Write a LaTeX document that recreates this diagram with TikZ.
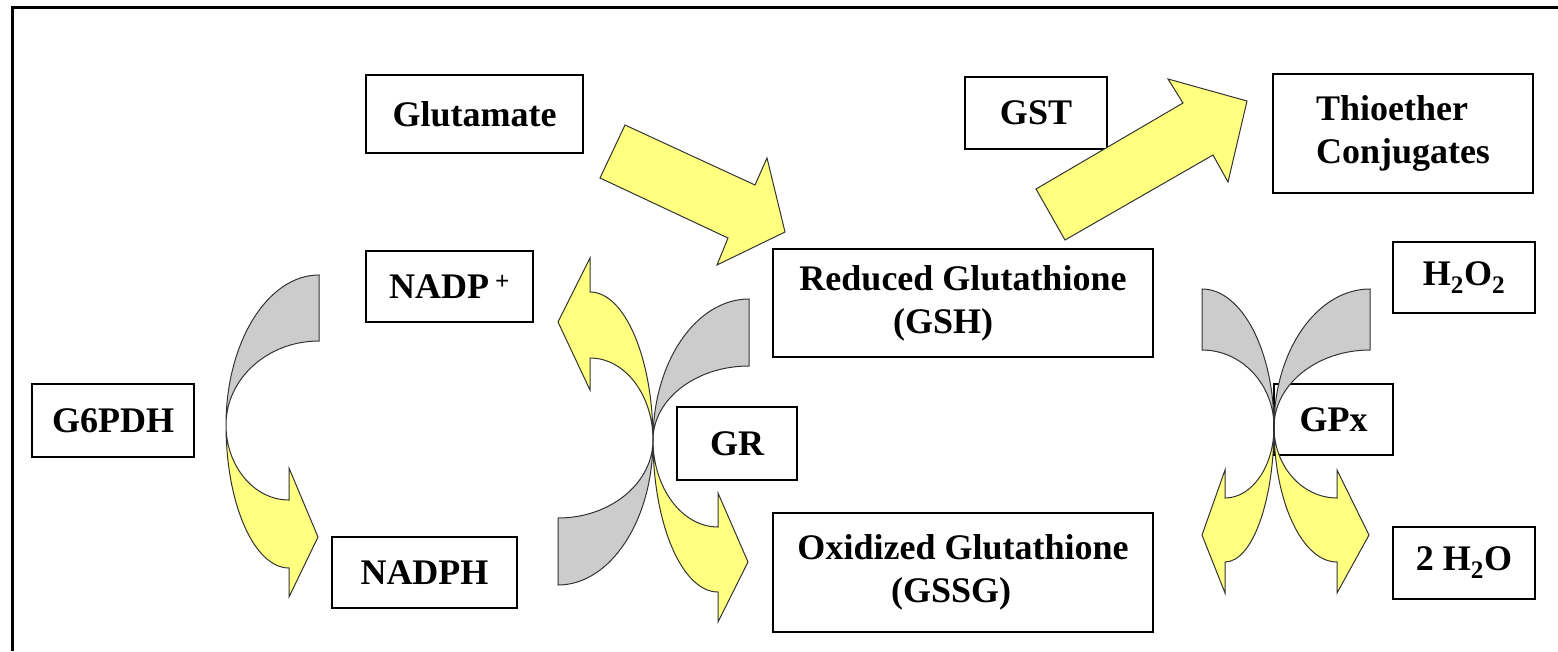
\documentclass[tikz,border=0pt]{standalone}
\usepackage{fontspec}
\setmainfont{Liberation Serif}
\definecolor{arrowyellow}{HTML}{FFFF80}
\definecolor{arrowgray}{HTML}{CCCCCC}

\begin{document}
\begin{tikzpicture}[x=1pt,y=-1pt,
  every node/.style={font=\fontsize{36}{43}\selectfont\bfseries},
  box/.style={draw,line width=1.8pt,inner sep=0pt},
  yel/.style={fill=arrowyellow,draw=black!80,line width=1pt},
  gry/.style={fill=arrowgray,draw=black!80,line width=1pt}]
  \useasboundingbox (0,0) rectangle (1558,651);
  \draw[line width=3pt] (12,651) -- (12,7) -- (1558,7);

  % boxes
  \node[box,minimum width=217pt,minimum height=78pt] (glu) at (474.5,114) {Glutamate};
  \node[box,minimum width=167pt,minimum height=71pt] (nadp) at (449.5,286.5) {NADP\,\textsuperscript{+}};
  \node[box,minimum width=162pt,minimum height=73pt] (g6pdh) at (113,420.5) {G6PDH};
  \node[box,minimum width=185pt,minimum height=71pt] (nadph) at (424.5,572.5) {NADPH};
  \node[box,minimum width=120pt,minimum height=73pt] (gr) at (737,443.5) {GR};
  \node[box,minimum width=380pt,minimum height=108pt,align=left] (gsh) at (963,303) {Reduced Glutathione\\\hspace*{2.6em}(GSH)};
  \node[box,minimum width=380pt,minimum height=119pt,align=left] (gssg) at (963,572.5) {Oxidized Glutathione\\\hspace*{2.6em}(GSSG)};
  \node[box,minimum width=142pt,minimum height=72pt] (gst) at (1036,113) {GST};
  \node[box,minimum width=260pt,minimum height=119pt,align=left] (thio) at (1403,133.5) {Thioether\\Conjugates};
  \node[box,minimum width=142pt,minimum height=71pt] (h2o2) at (1464,277.5) {H\textsubscript{2}O\textsubscript{2}};
  \node[box,minimum width=142pt,minimum height=72pt] (water) at (1464,563) {2 H\textsubscript{2}O};
  \node[box,minimum width=119pt,minimum height=71pt] (gpx) at (1333.5,419.5) {GPx};

  % straight arrows
  \draw[yel] (625,125) -- (755,185) -- (767,158) -- (785,232) -- (717,265) -- (728,238) -- (600,178) -- cycle;
  \draw[yel] (1036,189) -- (1183,103) -- (1168,79) -- (1247,101) -- (1228,182) -- (1213,155) -- (1065,240) -- cycle;

  % G6PDH cycle
  \draw[gry] (319,275) arc[start angle=-90,end angle=-180,x radius=93,y radius=150]
    arc[start angle=180,end angle=270,x radius=93,y radius=84] -- cycle;
  \draw[yel] (226,425) arc[start angle=180,end angle=90,x radius=63,y radius=143]
    -- (289,597) -- (318,537) -- (289,468) -- (289,500)
    arc[start angle=90,end angle=180,x radius=63,y radius=75] -- cycle;

  % GR cycle
  \draw[gry] (749,299) arc[start angle=-90,end angle=-180,x radius=96,y radius=141]
    arc[start angle=180,end angle=270,x radius=96,y radius=74] -- cycle;
  \draw[gry] (558,585) arc[start angle=90,end angle=0,x radius=95,y radius=145]
    arc[start angle=0,end angle=90,x radius=95,y radius=78] -- cycle;
  \draw[yel] (653,440) arc[start angle=0,end angle=-90,x radius=63,y radius=148]
    -- (590,258) -- (558,322) -- (590,390) -- (590,358)
    arc[start angle=-90,end angle=0,x radius=63,y radius=82] -- cycle;
  \draw[yel] (653,440) arc[start angle=180,end angle=90,x radius=65,y radius=152]
    -- (718,622) -- (748,562) -- (718,493) -- (718,527)
    arc[start angle=90,end angle=180,x radius=65,y radius=87] -- cycle;

  % GPx cycle
  \draw[gry] (1202,289) arc[start angle=-90,end angle=0,x radius=72,y radius=138]
    arc[start angle=0,end angle=-90,x radius=72,y radius=77] -- cycle;
  \draw[gry] (1370,289) arc[start angle=-90,end angle=-180,x radius=96,y radius=138]
    arc[start angle=180,end angle=270,x radius=96,y radius=77] -- cycle;
  \draw[yel] (1274,427) arc[start angle=0,end angle=90,x radius=49,y radius=135]
    -- (1225,593) -- (1202,535) -- (1225,470) -- (1225,498)
    arc[start angle=90,end angle=0,x radius=49,y radius=71] -- cycle;
  \draw[yel] (1274,427) arc[start angle=180,end angle=90,x radius=63,y radius=135]
    -- (1337,593) -- (1369,535) -- (1337,470) -- (1337,498)
    arc[start angle=90,end angle=180,x radius=63,y radius=71] -- cycle;
\end{tikzpicture}
\end{document}
